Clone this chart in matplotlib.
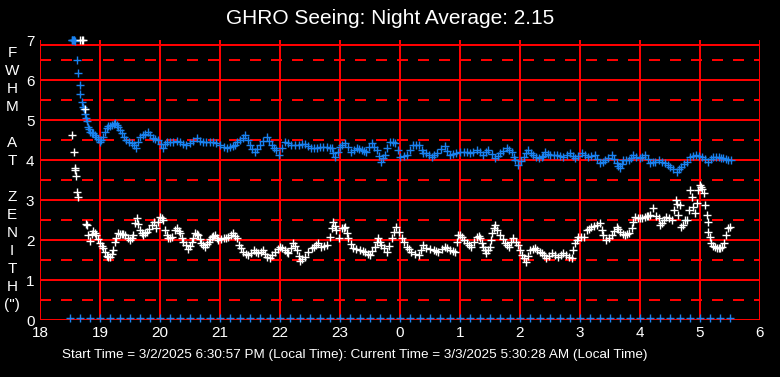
"""GHRO seeing chart: FWHM at zenith vs local time, black background with red grid."""
import numpy as np
import matplotlib
matplotlib.use("Agg")
import matplotlib.pyplot as plt

# ---- data (hours since midnight of start night; >24 = next morning)
blue_t = [18.53, 18.54, 18.55, 18.56, 18.57, 18.58,
          18.61, 18.64, 18.66, 18.67, 18.70, 18.72, 18.73, 18.75, 18.77, 18.78, 18.80, 18.82,
          18.84, 18.86, 18.88, 18.91, 18.94, 18.97, 19.00, 19.02, 19.05, 19.08, 19.11, 19.14,
          19.17, 19.20, 19.23, 19.25, 19.28, 19.30, 19.33, 19.36, 19.40, 19.44, 19.48, 19.53,
          19.56, 19.60, 19.63, 19.67, 19.71, 19.75, 19.80, 19.84, 19.88, 19.92, 19.97, 20.01,
          20.05, 20.08, 20.11, 20.16, 20.22, 20.28, 20.33, 20.38, 20.44, 20.50, 20.55, 20.61,
          20.66, 20.72, 20.77, 20.83, 20.88, 20.94, 21.00, 21.06, 21.11, 21.17, 21.21, 21.25,
          21.29, 21.33, 21.38, 21.42, 21.46, 21.50, 21.54, 21.58, 21.62, 21.67, 21.72, 21.78,
          21.82, 21.86, 21.90, 21.94, 21.99, 22.03, 22.08, 22.13, 22.19, 22.25, 22.31, 22.36,
          22.42, 22.47, 22.52, 22.56, 22.62, 22.67, 22.72, 22.78, 22.83, 22.86, 22.89, 22.92,
          22.96, 23.00, 23.04, 23.08, 23.13, 23.19, 23.24, 23.28, 23.32, 23.36, 23.40, 23.44,
          23.49, 23.53, 23.57, 23.61, 23.65, 23.69, 23.72, 23.75, 23.79, 23.83, 23.88, 23.92,
          23.96, 24.00, 24.06, 24.11, 24.17, 24.22, 24.27, 24.31, 24.36, 24.39, 24.44, 24.49,
          24.53, 24.57, 24.61, 24.68, 24.75, 24.79, 24.83, 24.89, 24.94, 25.00, 25.06, 25.11,
          25.17, 25.22, 25.28, 25.33, 25.39, 25.43, 25.47, 25.53, 25.58, 25.63, 25.67, 25.72,
          25.78, 25.82, 25.86, 25.90, 25.92, 25.97, 26.01, 26.06, 26.10, 26.14, 26.18, 26.22,
          26.27, 26.31, 26.36, 26.39, 26.42, 26.47, 26.50, 26.56, 26.61, 26.67, 26.72, 26.78,
          26.83, 26.88, 26.92, 26.97, 27.03, 27.08, 27.14, 27.19, 27.25, 27.29, 27.33, 27.38,
          27.42, 27.47, 27.53, 27.57, 27.61, 27.64, 27.67, 27.70, 27.72, 27.77, 27.81, 27.85,
          27.89, 27.94, 28.00, 28.04, 28.08, 28.13, 28.17, 28.21, 28.25, 28.31, 28.36, 28.42,
          28.46, 28.50, 28.55, 28.61, 28.65, 28.69, 28.74, 28.78, 28.83, 28.89, 28.94, 28.99,
          29.03, 29.08, 29.14, 29.18, 29.22, 29.27, 29.31, 29.35, 29.39, 29.43, 29.47, 29.51]
blue_v = [7.00, 7.00, 7.00, 7.00, 7.00, 6.98,
          6.50, 6.17, 5.87, 5.65, 5.46, 5.33, 5.27, 5.15, 5.05, 4.98, 4.83, 4.77,
          4.71, 4.68, 4.67, 4.62, 4.58, 4.52, 4.46, 4.50, 4.58, 4.70, 4.80, 4.84,
          4.86, 4.87, 4.90, 4.92, 4.88, 4.83, 4.75, 4.67, 4.58, 4.50, 4.46, 4.42,
          4.38, 4.30, 4.45, 4.58, 4.62, 4.65, 4.71, 4.62, 4.55, 4.52, 4.50, 4.40,
          4.30, 4.40, 4.46, 4.46, 4.46, 4.48, 4.44, 4.40, 4.37, 4.42, 4.48, 4.55,
          4.48, 4.46, 4.44, 4.46, 4.44, 4.42, 4.38, 4.33, 4.30, 4.33, 4.35, 4.37,
          4.44, 4.50, 4.56, 4.62, 4.50, 4.37, 4.27, 4.21, 4.27, 4.37, 4.47, 4.58,
          4.47, 4.37, 4.30, 4.25, 4.12, 4.30, 4.46, 4.42, 4.37, 4.37, 4.37, 4.40,
          4.40, 4.35, 4.31, 4.29, 4.31, 4.33, 4.33, 4.33, 4.31, 4.29, 4.18, 4.08,
          4.20, 4.33, 4.38, 4.42, 4.32, 4.21, 4.26, 4.29, 4.27, 4.25, 4.23, 4.21,
          4.32, 4.42, 4.33, 4.25, 4.10, 3.96, 4.05, 4.12, 4.30, 4.46, 4.44, 4.42,
          4.25, 4.08, 4.10, 4.12, 4.25, 4.37, 4.37, 4.37, 4.25, 4.17, 4.17, 4.12,
          4.08, 4.12, 4.17, 4.27, 4.35, 4.22, 4.12, 4.15, 4.17, 4.19, 4.21, 4.19,
          4.17, 4.21, 4.25, 4.19, 4.12, 4.19, 4.25, 4.14, 4.04, 4.10, 4.17, 4.23,
          4.29, 4.25, 4.21, 4.08, 4.00, 3.87, 3.98, 4.08, 4.17, 4.25, 4.18, 4.12,
          4.08, 4.04, 4.08, 4.10, 4.21, 4.14, 4.12, 4.12, 4.12, 4.10, 4.08, 4.12,
          4.17, 4.10, 4.04, 4.10, 4.17, 4.12, 4.08, 4.10, 4.12, 4.02, 3.92, 3.96,
          4.00, 4.06, 4.12, 4.02, 3.92, 3.85, 3.79, 3.90, 4.00, 4.00, 4.00, 4.06,
          4.12, 4.08, 4.04, 4.08, 4.12, 4.02, 3.92, 3.94, 3.96, 4.00, 3.96, 3.92,
          3.88, 3.83, 3.77, 3.71, 3.77, 3.83, 3.90, 3.96, 4.08, 4.10, 4.12, 4.10,
          4.08, 4.02, 3.96, 4.02, 4.08, 4.08, 4.08, 4.06, 4.04, 4.02, 4.00, 4.00]

white_t = [18.54, 18.56, 18.58, 18.585, 18.60, 18.62, 18.64, 18.67, 18.70, 18.72, 18.75,
           18.77, 18.79, 18.80, 18.83, 18.86, 18.89, 18.92, 18.94, 18.97, 19.00, 19.03, 19.05,
           19.08, 19.11, 19.14, 19.17, 19.20, 19.22, 19.25, 19.27, 19.30, 19.33, 19.36, 19.39,
           19.42, 19.46, 19.50, 19.53, 19.55, 19.58, 19.62, 19.64, 19.67, 19.70, 19.72, 19.75,
           19.78, 19.82, 19.86, 19.90, 19.94, 19.97, 20.00, 20.03, 20.05, 20.08, 20.11, 20.14,
           20.17, 20.20, 20.25, 20.28, 20.31, 20.33, 20.36, 20.39, 20.43, 20.47, 20.50, 20.53,
           20.55, 20.58, 20.61, 20.64, 20.67, 20.69, 20.72, 20.75, 20.78, 20.81, 20.83, 20.86,
           20.89, 20.92, 20.95, 20.97, 21.01, 21.06, 21.10, 21.14, 21.18, 21.22, 21.25, 21.28,
           21.31, 21.35, 21.39, 21.43, 21.47, 21.51, 21.56, 21.60, 21.64, 21.68, 21.72, 21.75,
           21.78, 21.83, 21.87, 21.92, 21.96, 22.00, 22.04, 22.08, 22.11, 22.14, 22.18, 22.22,
           22.25, 22.28, 22.31, 22.33, 22.37, 22.42, 22.47, 22.53, 22.56, 22.60, 22.64, 22.69,
           22.74, 22.78, 22.83, 22.87, 22.89, 22.92, 22.94, 22.99, 23.03, 23.06, 23.08, 23.11,
           23.14, 23.18, 23.22, 23.27, 23.33, 23.38, 23.42, 23.46, 23.50, 23.54, 23.58, 23.61,
           23.64, 23.67, 23.69, 23.74, 23.78, 23.82, 23.86, 23.90, 23.94, 23.98, 24.03, 24.07,
           24.11, 24.15, 24.19, 24.25, 24.31, 24.35, 24.39, 24.44, 24.50, 24.56, 24.60, 24.64,
           24.70, 24.75, 24.79, 24.83, 24.88, 24.92, 24.95, 24.97, 25.00, 25.03, 25.07, 25.11,
           25.15, 25.19, 25.24, 25.28, 25.31, 25.33, 25.36, 25.39, 25.42, 25.44, 25.47, 25.50,
           25.52, 25.53, 25.56, 25.58, 25.62, 25.67, 25.71, 25.75, 25.78, 25.81, 25.85, 25.89,
           25.93, 25.97, 26.00, 26.03, 26.06, 26.10, 26.13, 26.17, 26.21, 26.25, 26.29, 26.33,
           26.37, 26.40, 26.44, 26.48, 26.53, 26.58, 26.64, 26.68, 26.72, 26.77, 26.81, 26.86,
           26.89, 26.92, 26.95, 26.97, 27.02, 27.06, 27.11, 27.15, 27.19, 27.24, 27.28, 27.33,
           27.36, 27.39, 27.44, 27.48, 27.53, 27.57, 27.61, 27.64, 27.67, 27.72, 27.75, 27.78,
           27.81, 27.86, 27.89, 27.92, 27.96, 28.00, 28.04, 28.08, 28.11, 28.14, 28.17, 28.22,
           28.26, 28.31, 28.33, 28.36, 28.40, 28.44, 28.49, 28.53, 28.56, 28.60, 28.62, 28.64,
           28.66, 28.69, 28.72, 28.75, 28.78, 28.81, 28.83, 28.86, 28.89, 28.92, 28.95, 28.97,
           29.00, 29.02, 29.04, 29.06, 29.08, 29.11, 29.13, 29.14, 29.17, 29.19, 29.22, 29.25,
           29.28, 29.31, 29.33, 29.36, 29.40, 29.44, 29.47, 29.50]
white_v = [4.62, 4.20, 3.80, 3.76, 3.60, 3.20, 3.08, 7.00, 7.00, 7.00, 5.27,
           2.41, 2.37, 2.12, 1.97, 2.15, 2.23, 2.18, 2.12, 2.02, 1.92, 1.85, 1.80,
           1.70, 1.60, 1.58, 1.57, 1.65, 1.75, 1.96, 2.05, 2.17, 2.16, 2.15, 2.14,
           2.12, 2.05, 2.00, 2.05, 2.12, 2.42, 2.54, 2.40, 2.25, 2.18, 2.12, 2.17,
           2.21, 2.28, 2.37, 2.46, 2.29, 2.45, 2.58, 2.55, 2.50, 2.25, 2.12, 2.04,
           2.06, 2.08, 2.25, 2.29, 2.22, 2.17, 2.06, 1.96, 1.88, 1.78, 1.85, 1.96,
           2.06, 2.17, 2.15, 2.12, 2.02, 1.92, 1.87, 1.83, 1.90, 1.96, 2.02, 2.08,
           2.10, 2.12, 2.06, 2.00, 2.02, 2.04, 2.06, 2.08, 2.12, 2.17, 2.10, 2.04,
           1.87, 1.79, 1.71, 1.66, 1.62, 1.68, 1.75, 1.71, 1.67, 1.71, 1.75, 1.66,
           1.58, 1.54, 1.62, 1.71, 1.77, 1.83, 1.79, 1.75, 1.70, 1.67, 1.80, 1.92,
           1.84, 1.75, 1.60, 1.48, 1.52, 1.58, 1.70, 1.80, 1.83, 1.88, 1.92, 1.83,
           1.85, 1.87, 2.08, 2.30, 2.46, 2.35, 2.25, 2.04, 2.29, 2.31, 2.33, 2.18,
           2.04, 1.90, 1.79, 1.77, 1.75, 1.73, 1.71, 1.66, 1.62, 1.72, 1.83, 1.94,
           2.04, 1.95, 1.87, 1.79, 1.71, 1.86, 2.04, 2.20, 2.33, 2.20, 2.04, 1.94,
           1.83, 1.77, 1.71, 1.66, 1.62, 1.75, 1.87, 1.79, 1.77, 1.75, 1.73, 1.71,
           1.78, 1.83, 1.79, 1.75, 1.73, 1.71, 1.95, 2.12, 2.12, 2.08, 2.00, 1.92,
           1.88, 1.83, 1.95, 2.08, 2.10, 2.04, 1.92, 1.83, 1.75, 1.67, 1.75, 1.83,
           2.00, 2.17, 2.30, 2.37, 2.25, 2.12, 2.02, 1.92, 1.88, 1.83, 1.94, 2.04,
           1.96, 1.87, 1.75, 1.62, 1.54, 1.46, 1.60, 1.75, 1.77, 1.79, 1.75, 1.71,
           1.67, 1.62, 1.54, 1.60, 1.67, 1.63, 1.58, 1.62, 1.67, 1.62, 1.58, 1.54,
           1.75, 1.92, 2.00, 2.08, 2.08, 2.08, 2.25, 2.28, 2.33, 2.35, 2.37, 2.42,
           2.25, 2.12, 2.00, 2.06, 2.12, 2.22, 2.33, 2.27, 2.21, 2.15, 2.12, 2.15,
           2.17, 2.29, 2.45, 2.58, 2.56, 2.54, 2.56, 2.58, 2.60, 2.60, 2.62, 2.79,
           2.60, 2.54, 2.37, 2.42, 2.50, 2.58, 2.55, 2.50, 2.75, 3.00, 2.90, 2.62,
           2.87, 2.33, 2.37, 2.50, 2.50, 2.75, 3.25, 3.08, 2.83, 2.67, 2.92, 3.25,
           3.37, 3.32, 3.27, 3.17, 2.87, 2.62, 2.46, 2.21, 2.08, 1.92, 1.85, 1.83,
           1.80, 1.79, 1.80, 1.83, 1.92, 2.12, 2.29, 2.33]

# sample markers along the bottom, every 10 min from 18:30 to 05:30
sample_t = [18.50, 18.67, 18.83,
            19.00, 19.17, 19.33, 19.50, 19.67, 19.83,
            20.00, 20.17, 20.33, 20.50, 20.67, 20.83,
            21.00, 21.17, 21.33, 21.50, 21.67, 21.83,
            22.00, 22.17, 22.33, 22.50, 22.67, 22.83,
            23.00, 23.17, 23.33, 23.50, 23.67, 23.83,
            24.00, 24.17, 24.33, 24.50, 24.67, 24.83,
            25.00, 25.17, 25.33, 25.50, 25.67, 25.83,
            26.00, 26.17, 26.33, 26.50, 26.67, 26.83,
            27.00, 27.17, 27.33, 27.50, 27.67, 27.83,
            28.00, 28.17, 28.33, 28.50, 28.67, 28.83,
            29.00, 29.17, 29.33, 29.50]
sample_level = 0.05

x_ticks = list(range(18, 31))
x_labels = [str(h % 24) for h in x_ticks]
y_ticks = list(range(0, 8))

title = "GHRO Seeing: Night Average: 2.15"
footer = ("Start Time = 3/2/2025 6:30:57 PM (Local Time): "
          "Current Time = 3/3/2025 5:30:28 AM (Local Time)")
ylabel_letters = ["F", "W", "H", "M", "", "A", "T", "", "Z", "E", "N", "I", "T", "H", "(\")"]

BLUE = "#1a82f0"
RED = "#ff0000"
FONT = ["Liberation Sans", "DejaVu Sans"]

plt.rcParams["font.family"] = FONT
plt.rcParams["lines.scale_dashes"] = False

W, H = 780, 377
fig = plt.figure(figsize=(W / 100, H / 100), dpi=100, facecolor="black")
ax = fig.add_axes([40 / W, 57 / H, 720 / W, 280 / H], facecolor="black")
ax.set_xlim(18, 30)
ax.set_ylim(0, 7)

# grid: solid verticals per hour, solid horizontals at integers, dashed at halves
grid = dict(color=RED, lw=1.2, antialiased=False, zorder=1)
for x in x_ticks:
    ax.axvline(x, **grid)
for y in range(0, 7):
    ax.axhline(y, **grid)
for y in np.arange(0.5, 7, 1.0):
    ax.axhline(y, dashes=(7.2, 7.2), **grid)
ax.axhline(6.875, **grid)
for s in ax.spines.values():
    s.set_visible(False)

mk = dict(linestyle="none", marker="+", markersize=5.5, markeredgewidth=1.0,
          clip_on=False, zorder=3)
ax.plot(blue_t, blue_v, color=BLUE, **mk)
ax.plot(white_t, white_v, color="white", **mk)
ax.plot(sample_t, [sample_level] * len(sample_t), color=BLUE, **mk)

ax.set_xticks(x_ticks, x_labels)
ax.set_yticks(y_ticks)
ax.tick_params(axis="both", length=0, colors="white", labelsize=11)
ax.tick_params(axis="x", pad=4)
ax.tick_params(axis="y", pad=4)

fig.text(0.5, 1 - 18 / H, title, color="white", ha="center", va="center", fontsize=15)
fig.text(62 / W, 1 - 355 / H, footer, color="white", ha="left", va="center", fontsize=9.7)

y0, step = 53, 18
for i, ch in enumerate(ylabel_letters):
    if ch:
        fig.text(12 / W, 1 - (y0 + i * step) / H, ch, color="white", ha="center", va="center",
                 fontsize=11)

fig.savefig("out.png", dpi=100, facecolor="black")
